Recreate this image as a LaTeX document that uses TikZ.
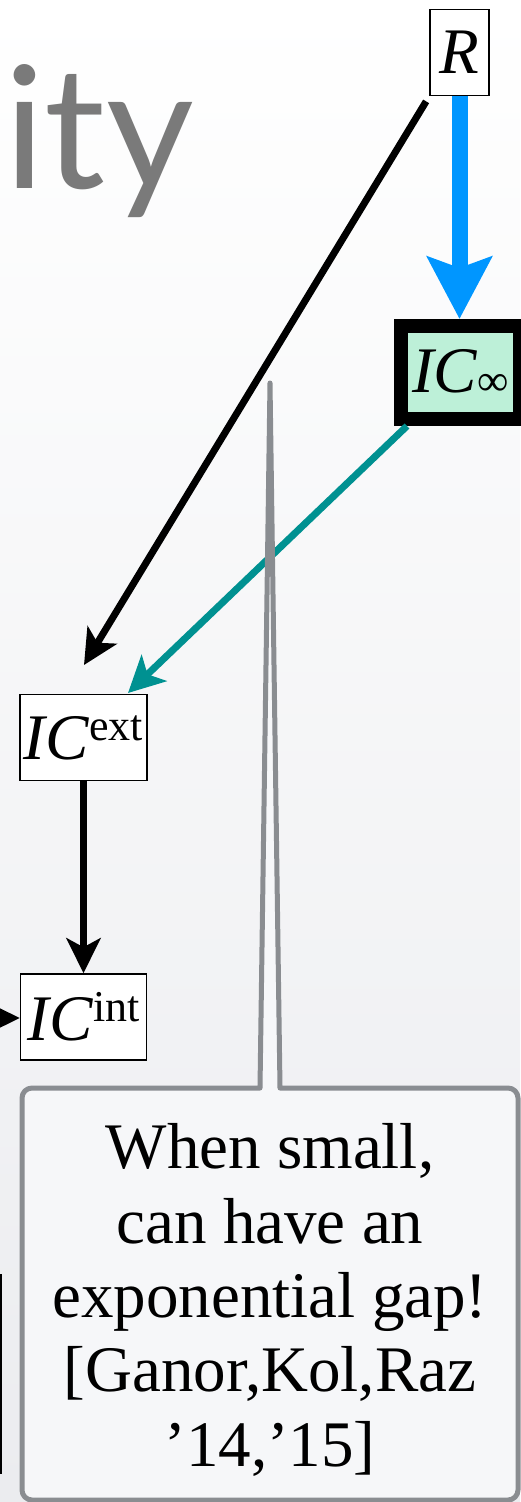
\documentclass[tikz,border=0pt]{standalone}
\usepackage{fontspec}
\setmainfont{Liberation Serif}
\newfontfamily\titlefont{Lato}
\usetikzlibrary{arrows.meta,positioning,calc}

\definecolor{arrblue}{RGB}{0,150,255}
\definecolor{arrteal}{RGB}{0,145,145}
\definecolor{mint}{RGB}{189,240,216}
\definecolor{calloutgray}{RGB}{138,141,145}
\definecolor{calloutfill}{RGB}{246,247,249}
\definecolor{bgbottom}{RGB}{235,236,239}
\definecolor{titlegray}{RGB}{122,122,122}

\begin{document}
\begin{tikzpicture}[x=1pt, y=-1pt,
    icbox/.style={
        draw,
        line width=1.5pt,
        fill=white,
        inner sep=0pt,
        minimum width=126pt,
        minimum height=86pt,
        font=\fontsize{65}{74}\selectfont
    },
    blackarr/.style={-{Stealth[length=35pt, width=34pt, inset=9pt]}, line width=7pt},
    tealarr/.style={-{Stealth[length=36pt, width=36pt, inset=9pt]}, line width=7pt, arrteal},
    bluearr/.style={-{Stealth[length=62pt, width=64pt, inset=11pt]}, line width=16pt, arrblue},
    callout/.style={draw=calloutgray, fill=calloutfill, line width=5pt, line join=round}
]
\path[use as bounding box, top color=white, bottom color=bgbottom] (0,0) rectangle (520,1502);

\node[font=\titlefont\fontsize{170}{170}\selectfont, text=titlegray, anchor=base west, inner sep=0pt] (title) at (4,188) {ity};

\node[draw, line width=1.5pt, inner sep=0pt, minimum width=120pt, minimum height=198pt] (lbox) at (-59,1374) {};

\node[icbox, minimum width=59pt] (R) at (459.5,52.5) {\textit{R}};
\node[icbox, line width=14pt, fill=mint, minimum width=119pt, minimum height=93pt] (icinf) at (460.5,372.5) {\textit{IC}\raisebox{-3pt}{\fontsize{44}{44}\selectfont ∞}};
\node[icbox, minimum width=127pt] (icext) at (83.5,737.5) {\textit{IC}\raisebox{19pt}{\fontsize{44}{44}\selectfont ext}};
\node[icbox, below=192pt of icext] (icint) {\textit{IC}\raisebox{19pt}{\fontsize{44}{44}\selectfont int}};

\coordinate (extin) at (84,665);
\coordinate (tealin) at (128,693);
\coordinate (lftin) at (-60,1018);

\draw[bluearr] (R.south) -- (R.south |- icinf.north);
\draw[blackarr, shorten <=6pt] (R.south west) -- (extin);
\draw[tealarr] (icinf.-135) -- (tealin);
\draw[blackarr] (icext.south) -- (icint.north);
\draw[blackarr] (lftin) -- (lftin -| icint.west);

% callout with its long pointer
\coordinate (tip) at (270,383);
\draw[callout] (22,1300) [rounded corners=10pt] -- (22,1088) [sharp corners] -- (260,1088) -- (tip) -- (280,1088) -- (400,1088) [rounded corners=10pt] -- (518,1088) -- (518,1500) -- (22,1500) -- cycle;
\node[font=\fontsize{65}{74.3}\selectfont, align=center, inner sep=0pt] (gap) at (270,1300) {When small,\\can have an\\exponential gap!\\{}[Ganor,Kol,Raz\\’14,’15]};
\end{tikzpicture}
\end{document}
